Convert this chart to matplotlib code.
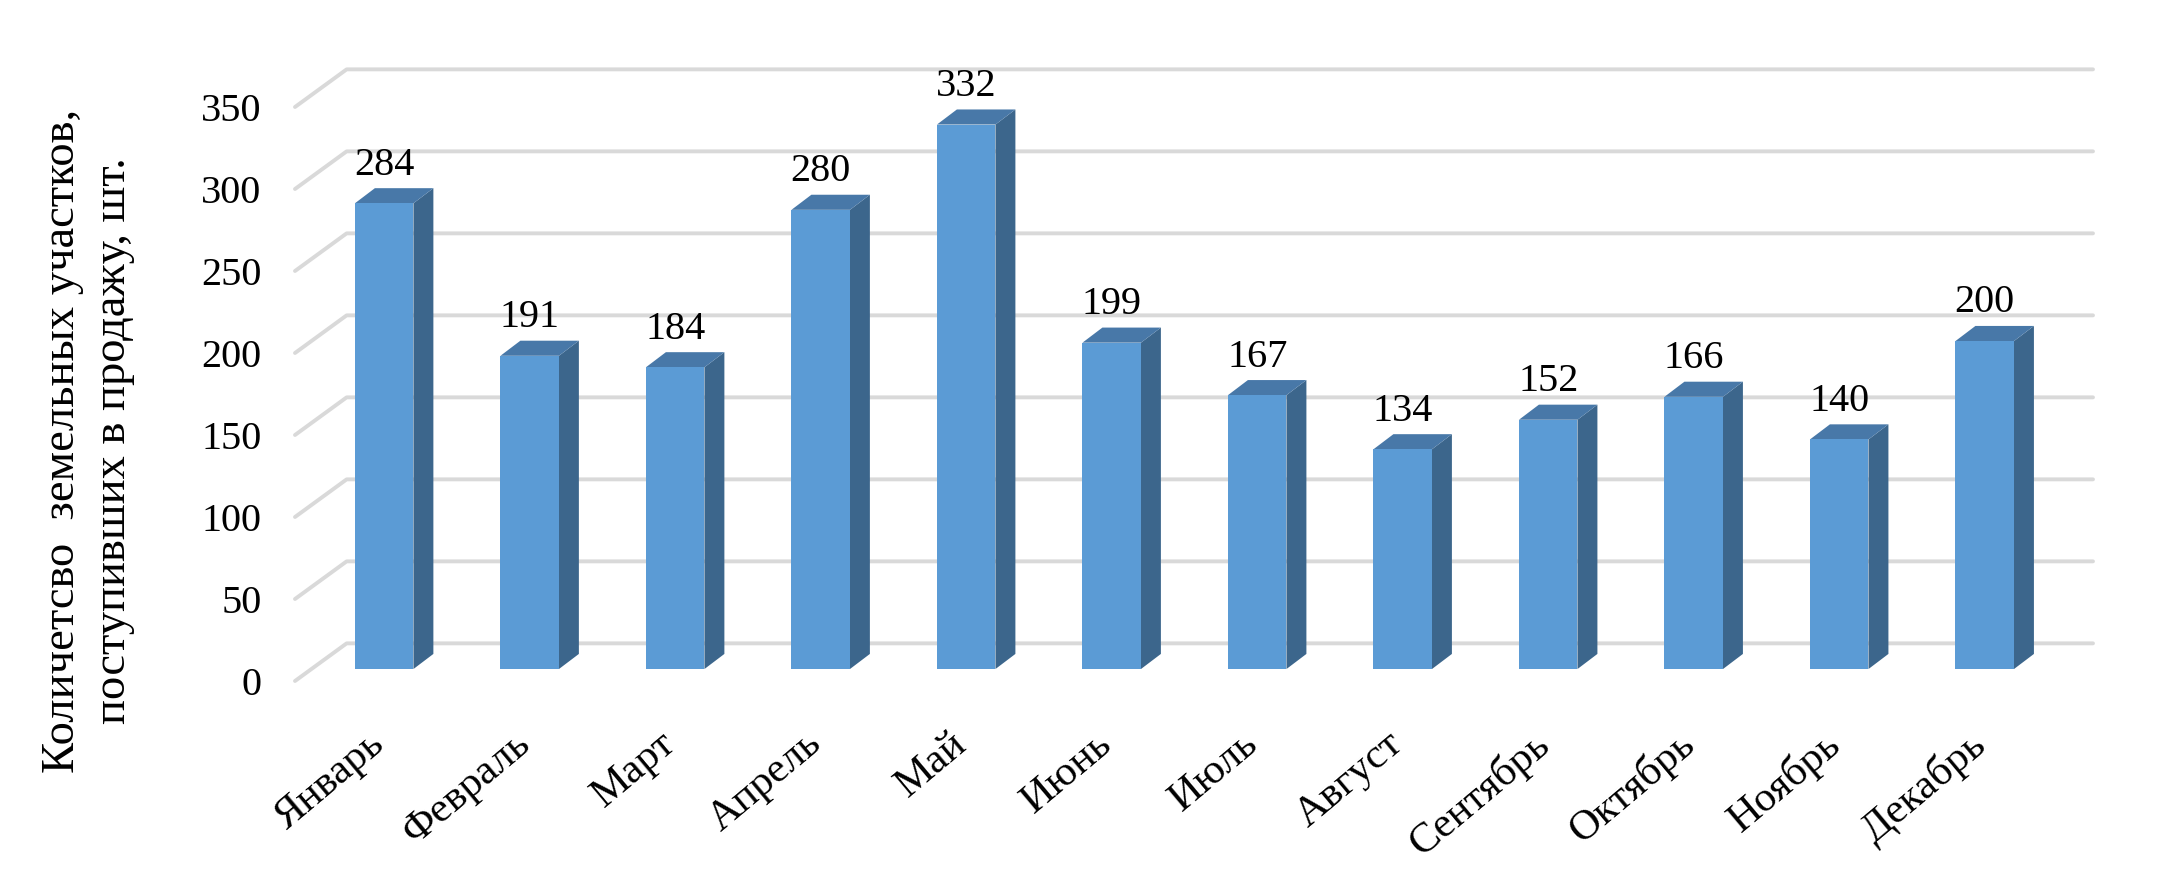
import matplotlib
matplotlib.use("Agg")
import matplotlib.pyplot as plt
from matplotlib.transforms import ScaledTranslation

# ==========================================
# Data
# ==========================================

months = ["Январь", "Февраль", "Март", "Апрель", "Май", "Июнь", "Июль",
          "Август", "Сентябрь", "Октябрь", "Ноябрь", "Декабрь"]
counts = [284, 191, 184, 280, 332, 199, 167, 134, 152, 166, 140, 200]
y_ticks = [0, 50, 100, 150, 200, 250, 300, 350]
y_title = "Количетсво  земельных участков,\nпоступивших в продажу, шт."

# ==========================================
# Settings
# ==========================================

W, H = 2162, 894
FRONT = "#5B9BD5"
TOP = "#4878A8"
SIDE = "#3C668C"
GRID = "#D9D9D9"

BAR_WIDTH = 0.402
BAR_LIFT = 7.3      # bars stand a little inside the floor
BAR_DX = 0.137      # depth of a bar
BAR_DY = 9.2
WALL_DX = 0.355     # depth of the floor
WALL_DY = 22.95
LABEL_GAP = 17.4

plt.rcParams["font.family"] = ["Liberation Serif", "DejaVu Serif"]

fig = plt.figure(figsize=(W / 100, H / 100), dpi=100)
ax = fig.add_axes([295 / W, 1 - 681 / H, (2093 - 295) / W, (681 - 107) / H])
ax.set_xlim(-0.613, 11.744)
ax.set_ylim(0, 350)

for spine in ax.spines.values():
    spine.set_visible(False)

# ==========================================
# Gridlines (side wall + back wall)
# ==========================================

x_left, x_right = ax.get_xlim()
for v in y_ticks:
    ax.plot([x_left, x_left + WALL_DX, x_right], [v, v + WALL_DY, v + WALL_DY],
            color=GRID, lw=2.8, clip_on=False, zorder=1,
            solid_joinstyle="round", solid_capstyle="round")

# ==========================================
# Bars
# ==========================================

positions = list(range(len(months)))
ax.bar(positions, counts, width=BAR_WIDTH, bottom=BAR_LIFT, color=FRONT,
       clip_on=False, zorder=3)

for i, value in zip(positions, counts):
    x0 = i - BAR_WIDTH / 2
    x1 = i + BAR_WIDTH / 2
    y0 = BAR_LIFT
    y1 = BAR_LIFT + value
    ax.fill([x1, x1 + BAR_DX, x1 + BAR_DX, x1],
            [y0, y0 + BAR_DY, y1 + BAR_DY, y1],
            color=SIDE, lw=0, clip_on=False, zorder=2)
    ax.fill([x0, x0 + BAR_DX, x1 + BAR_DX, x1],
            [y1, y1 + BAR_DY, y1 + BAR_DY, y1],
            color=TOP, lw=0, clip_on=False, zorder=2)
    ax.text(i, y1 + LABEL_GAP, str(value), ha="center", va="baseline",
            fontsize=29, color="black", zorder=4)

# ==========================================
# Axes text
# ==========================================

ax.set_yticks(y_ticks)
ax.set_yticklabels([str(v) for v in y_ticks], fontsize=29)
ax.tick_params(axis="y", length=0, pad=24)

ax.set_xticks(positions)
ax.set_xticklabels(months, fontsize=30.5, rotation=40, ha="right", va="top",
                   rotation_mode="anchor")
ax.tick_params(axis="x", length=0, pad=31)

# month labels sit left of the bar centres
shift = ScaledTranslation(-17 / 100, 0, fig.dpi_scale_trans)
for label in ax.get_xticklabels():
    label.set_transform(label.get_transform() + shift)

ax.set_ylabel(y_title, fontsize=33.5, linespacing=1.25, ha="center", va="center")
ax.yaxis.set_label_coords((88 - 295) / (2093 - 295), (681 - 441) / (681 - 107))

fig.savefig("out.png", dpi=100, facecolor="white")
